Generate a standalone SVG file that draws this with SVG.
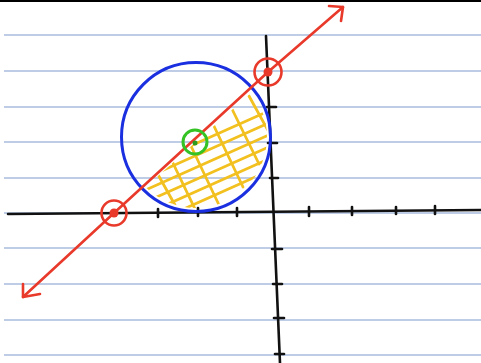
<svg xmlns="http://www.w3.org/2000/svg" width="481" height="363" viewBox="0 0 481 363">
<defs>
<style>
.rule{stroke:#a9bddc;stroke-width:1.5}
.ax{stroke:#111;stroke-width:2.6;fill:none;stroke-linecap:round}
.tk{stroke:#111;stroke-width:2.6;stroke-linecap:round}
.red{stroke:#e8392a;stroke-width:2.6;fill:none;stroke-linecap:round;stroke-linejoin:round}
.hatch{stroke:#f2c01f;stroke-width:2.8;fill:none;stroke-linecap:round}
</style>
<clipPath id="half">
<polygon points="130,201 262,83 300,83 300,240 130,240"/>
</clipPath>
<clipPath id="disc">
<circle cx="196" cy="137" r="71"/>
</clipPath>
</defs>
<rect width="481" height="363" fill="#fff"/>
<rect x="0" y="0" width="481" height="2" fill="#000"/>
<g id="paper">
<line class="rule" x1="4" y1="35" x2="481" y2="35"/>
<line class="rule" x1="4" y1="71" x2="481" y2="71"/>
<line class="rule" x1="4" y1="107" x2="481" y2="107"/>
<line class="rule" x1="4" y1="142" x2="481" y2="142"/>
<line class="rule" x1="4" y1="178" x2="481" y2="178"/>
<line class="rule" x1="4" y1="213" x2="481" y2="213"/>
<line class="rule" x1="4" y1="248" x2="481" y2="248"/>
<line class="rule" x1="4" y1="284" x2="481" y2="284"/>
<line class="rule" x1="4" y1="320" x2="481" y2="320"/>
<line class="rule" x1="4" y1="355" x2="481" y2="355"/>
</g>
<g id="hatching" clip-path="url(#half)">
<g clip-path="url(#disc)">
<path class="hatch" d="M156,171 L175,205"/>
<path class="hatch" d="M171,159 L195,209"/>
<path class="hatch" d="M191,146 L219,205"/>
<path class="hatch" d="M213,124 L243,187"/>
<path class="hatch" d="M232,109 L259,164"/>
<path class="hatch" d="M249,96 L270,134"/>
<path class="hatch" d="M130,173 L280,106"/>
<path class="hatch" d="M130,185 L280,118"/>
<path class="hatch" d="M130,197 L280,130"/>
<path class="hatch" d="M130,209 L280,142"/>
<path class="hatch" d="M130,221 L280,154"/>
<path class="hatch" d="M130,233 L280,166"/>
</g>
</g>
<g id="axes">
<path class="ax" d="M8,214 L481,210"/>
<path class="ax" d="M266,36 L280,363"/>
<line class="tk" x1="158" y1="209" x2="158" y2="217"/>
<line class="tk" x1="198" y1="208" x2="198" y2="216"/>
<line class="tk" x1="237" y1="208" x2="237" y2="216"/>
<line class="tk" x1="309" y1="207" x2="309" y2="216"/>
<line class="tk" x1="352" y1="207" x2="352" y2="215"/>
<line class="tk" x1="396" y1="207" x2="396" y2="214"/>
<line class="tk" x1="435" y1="206" x2="435" y2="214"/>
<line class="tk" x1="267" y1="107" x2="276" y2="107"/>
<line class="tk" x1="268" y1="143" x2="277" y2="143"/>
<line class="tk" x1="270" y1="178" x2="278" y2="178"/>
<line class="tk" x1="272" y1="249" x2="282" y2="249"/>
<line class="tk" x1="273" y1="284" x2="282" y2="284"/>
<line class="tk" x1="274" y1="318" x2="284" y2="318"/>
<line class="tk" x1="275" y1="354" x2="284" y2="354"/>
</g>
<g id="circle">
<circle cx="196" cy="137" r="74.5" fill="none" stroke="#1a2fe0" stroke-width="3"/>
</g>
<g id="line">
<polyline class="red" points="23,297 114,213 268,72 343,7"/>
<polyline class="red" points="329,6 343,7 341,21"/>
<polyline class="red" points="23,284 23,297 40,294"/>
</g>
<g id="center">
<circle cx="195" cy="142" r="12" fill="none" stroke="#34c224" stroke-width="3"/>
<circle cx="195" cy="143" r="2.5" fill="#2e9a1e"/>
</g>
<g id="intercept-y">
<circle cx="268" cy="72" r="13.5" fill="none" stroke="#e8392a" stroke-width="2.6"/>
<circle cx="268" cy="72" r="4.5" fill="#e8392a"/>
</g>
<g id="intercept-x">
<circle cx="114" cy="213" r="12.5" fill="none" stroke="#e8392a" stroke-width="2.6"/>
<circle cx="114" cy="213" r="4.5" fill="#e8392a"/>
</g>
</svg>
